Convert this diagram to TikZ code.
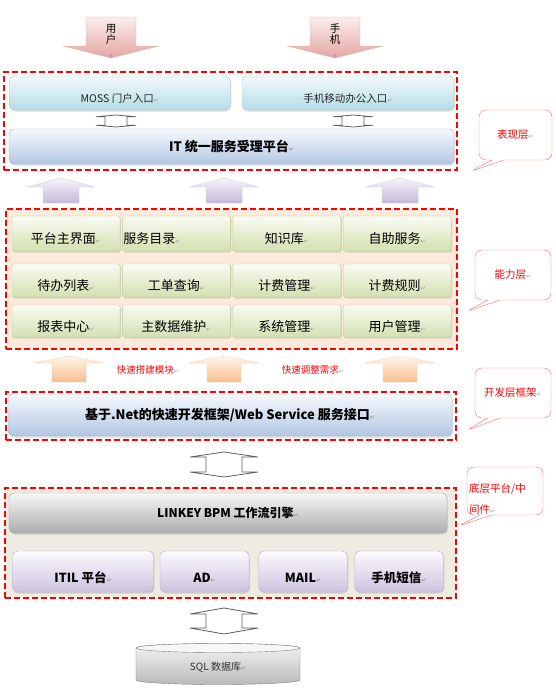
\documentclass[tikz,border=0pt]{standalone}
\usepackage{fontspec}
\setmainfont{Noto Sans CJK SC}
\newfontfamily\symf{DejaVu Sans}
\usetikzlibrary{positioning,shapes,shadows,calc}

\definecolor{layred}{HTML}{FF0000}
\definecolor{notered}{HTML}{FF6B6B}
\definecolor{peach}{HTML}{FDEADA}
\definecolor{sand}{HTML}{EEECE1}
\definecolor{pinktop}{HTML}{FBEDEC}
\definecolor{pinkbot}{HTML}{E5A6A3}
\definecolor{lilactop}{HTML}{F7F5FA}
\definecolor{lilacbot}{HTML}{C4B9D8}
\definecolor{orangetop}{HTML}{FFF5EC}
\definecolor{orangebot}{HTML}{F8BE8E}
\definecolor{mosstop}{HTML}{F3FAFC}
\definecolor{mossbot}{HTML}{B5DCE7}
\definecolor{mossline}{HTML}{A6CAD6}
\definecolor{ittop}{HTML}{F6F9FD}
\definecolor{itbot}{HTML}{B2C7E3}
\definecolor{itline}{HTML}{9FB5D5}
\definecolor{celltop}{HTML}{F9FBF2}
\definecolor{cellbot}{HTML}{D2E1B2}
\definecolor{cellline}{HTML}{BFCF9C}
\definecolor{comptop}{HTML}{FCFBFE}
\definecolor{compbot}{HTML}{CEC2E0}
\definecolor{compline}{HTML}{B8AACE}

\newcommand{\rmark}{{\symf\color{black!40}\fontsize{6}{6}\selectfont ↵}}

\begin{document}
\begin{tikzpicture}[x=1pt,y=-1pt]
	\tikzstyle{layer}=[draw=layred, dash pattern=on 6pt off 3pt, line width=1.6pt, rectangle, inner sep=0pt]
	\tikzstyle{softshadow}=[drop shadow={opacity=0.25, shadow xshift=1pt, shadow yshift=-1.5pt}]
	\tikzstyle{mossbox}=[draw=mossline, rounded corners=5pt, top color=mosstop, bottom color=mossbot, softshadow, inner sep=1pt, font=\fontsize{10.5}{10.5}\selectfont, text=black!85, text height=18pt, text depth=0pt, minimum height=34pt]
	\tikzstyle{itbox}=[draw=itline, rounded corners=5pt, top color=ittop, bottom color=itbot, softshadow, inner sep=1pt, font=\fontsize{13}{13}\selectfont\bfseries]
	\tikzstyle{cell}=[draw=cellline, rounded corners=2pt, top color=celltop, bottom color=cellbot, softshadow, inner sep=1pt, minimum width=108pt, font=\fontsize{13}{13}\selectfont, text height=20pt, text depth=0pt]
	\tikzstyle{bpmbox}=[draw=gray!70, rounded corners=5pt, top color=gray!6, bottom color=gray!65, softshadow, inner sep=1pt, font=\fontsize{12}{12}\selectfont\bfseries]
	\tikzstyle{compbox}=[draw=compline, rounded corners=5pt, top color=comptop, bottom color=compbot, softshadow, inner sep=1pt, minimum height=41pt, font=\fontsize{12.5}{12.5}\selectfont\bfseries, text height=22.5pt, text depth=0pt]
	\tikzstyle{note}=[rectangle callout, draw=notered, fill=white, rounded corners=7pt, callout pointer width=12pt, text=red, font=\fontsize{10.5}{10.5}\selectfont, inner sep=1pt]
	\tikzstyle{dbl}=[draw=gray!75!black, fill=white, line width=0.8pt]

	\path[fill=white] (0,0) rectangle (556,696);
	\useasboundingbox (0,0) rectangle (556,696);

	% layer frames
	\node[layer, minimum width=453pt, minimum height=98pt] (lay1) at (230.5,121) {};
	\node[layer, fill=peach, minimum width=451pt, minimum height=140pt] (lay2) at (231.5,279) {};
	\node[layer, minimum width=450pt, minimum height=48pt] (lay3) at (231,416) {};
	\node[layer, fill=sand, minimum width=451pt, minimum height=110pt] (lay4) at (230.5,543) {};

	% entry arrows
	\foreach \cx in {111,335}
		\path[draw=pinkbot!80!black!60, line width=0.3pt, top color=pinktop, bottom color=pinkbot] (\cx-25,17) -- (\cx+25,17) -- (\cx+25,46) -- (\cx+48,46) -- (\cx,58) -- (\cx-48,46) -- (\cx-25,46) -- cycle;
	\node[font=\fontsize{10.5}{11}\selectfont, align=center] (user) at (111,42) {用\\户\\\rotatebox{-90}{\rmark}};
	\node[font=\fontsize{10.5}{11}\selectfont, align=center] (phone) at (335,42) {手\\机\\\rotatebox{-90}{\rmark}};

	% presentation layer
	\node[mossbox, minimum width=221pt] (moss) at (119.75,93) {MOSS 门户入口\rmark};
	\node[mossbox, minimum width=212pt] (mobile) at (348,93) {手机移动办公入口\rmark};
	\node[itbox, minimum width=445pt, minimum height=35pt] (it) at (231.5,146.5) {IT 统一服务受理平台\rmark};

	\foreach \cx/\t/\b/\w/\s/\h in {116/115/127/20/11/1.8, 353/115/127/20/11/1.8, 224/452/477/34/18/5, 224/608/634/34/18/6}
		\draw[dbl] (\cx,\t) -- (\cx+\w,\t+\h) -- (\cx+\s,\t+\h) -- (\cx+\s,\b-\h) -- (\cx+\w,\b-\h) -- (\cx,\b) -- (\cx-\w,\b-\h) -- (\cx-\s,\b-\h) -- (\cx-\s,\t+\h) -- (\cx-\w,\t+\h) -- cycle;

	\foreach \cx in {61,224,400}
		\path[draw=lilacbot!80, line width=0.3pt, top color=lilactop, bottom color=lilacbot] (\cx,178) -- (\cx+34,187) -- (\cx+18,187) -- (\cx+18,203) -- (\cx-18,203) -- (\cx-18,187) -- (\cx-34,187) -- cycle;

	% ability layer
	\node[cell, minimum height=35pt] (c11) at (66,233.5) {平台主界面\rmark};
	\node[cell, minimum height=35pt, text width=106pt, align=left] (c12) [right=2pt of c11] {服务目录\rmark};
	\node[cell, minimum height=35pt] (c13) [right=2pt of c12] {知识库\rmark};
	\node[cell, minimum height=35pt] (c14) [right=2pt of c13] {自助服务\rmark};
	\node[cell, minimum height=33pt] (c21) at (66,280.5) {待办列表\rmark};
	\node[cell, minimum height=33pt] (c22) [right=2pt of c21] {工单查询\rmark};
	\node[cell, minimum height=33pt] (c23) [right=2pt of c22] {计费管理\rmark};
	\node[cell, minimum height=33pt] (c24) [right=2pt of c23] {计费规则\rmark};
	\node[cell, minimum height=32pt] (c31) at (66,321) {报表中心\rmark};
	\node[cell, minimum height=32pt] (c32) [right=2pt of c31] {主数据维护\rmark};
	\node[cell, minimum height=32pt] (c33) [right=2pt of c32] {系统管理\rmark};
	\node[cell, minimum height=32pt] (c34) [right=2pt of c33] {用户管理\rmark};

	\foreach \cx in {69,224,400}
		\path[draw=orangebot!80, line width=0.3pt, top color=orangetop, bottom color=orangebot] (\cx,356) -- (\cx+35,363) -- (\cx+17,363) -- (\cx+17,382) -- (\cx-17,382) -- (\cx-17,363) -- (\cx-35,363) -- cycle;
	\node[text=red, font=\fontsize{9.5}{9.5}\selectfont] (build) at (148,370) {快速搭建模块\rmark};
	\node[text=red, font=\fontsize{9.5}{9.5}\selectfont] (adjust) at (313,370) {快速调整需求\rmark};

	% development layer
	\node[itbox, minimum width=444pt, minimum height=42pt] (net) at (230,415) {基于.Net的快速开发框架/Web Service 服务接口\rmark};

	% platform layer
	\node[bpmbox, minimum width=438pt, minimum height=40pt] (bpm) at (228,513) {LINKEY BPM 工作流引擎\rmark};
	\node[compbox, minimum width=141pt] (itil) at (83,571.5) {ITIL 平台\rmark};
	\node[compbox, minimum width=89pt] (ad) at (204.5,571.5) {AD\rmark};
	\node[compbox, minimum width=88.5pt] (mail) at (303,571.5) {MAIL\rmark};
	\node[compbox, minimum width=88.5pt] (sms) at (399,571.5) {手机短信\rmark};

	% database
	\path[draw=gray, top color=gray!8, bottom color=gray!55] (136,648) -- (136,680) arc[start angle=180, end angle=360, x radius=82pt, y radius=4.5pt] -- (300,648) arc[start angle=0, end angle=180, x radius=82pt, y radius=4.5pt] -- cycle;
	\draw[gray, fill=gray!6] (218,648) ellipse [x radius=82pt, y radius=4.5pt];
	\node[font=\fontsize{10}{10}\selectfont, text=black!80] (db) at (218,667) {SQL 数据库\rmark};

	% notes
	\node[note, minimum width=73pt, minimum height=50pt, callout absolute pointer={($(lay1.south east)+(12,1)$)}] (n1) at (515.5,135) {表现层\rmark};
	\node[note, minimum width=76pt, minimum height=50pt, callout absolute pointer={($(lay2.east)+(8,33)$)}] (n2) at (513,275) {能力层\rmark};
	\node[note, minimum width=76pt, minimum height=50pt, callout absolute pointer={($(lay3.south east)+(9,-10)$)}] (n3) at (513,393) {开发层框架\rmark};
	\node[note, minimum width=76pt, minimum height=48pt, callout absolute pointer={($(lay4.north east)+(1,39)$)}] (n4) at (505,491) {};
	\node[text=red, font=\fontsize{10.5}{21}\selectfont, align=left, anchor=west, inner sep=0pt] (n4t) at (469,498.5) {底层平台/中\\间件\rmark};
\end{tikzpicture}
\end{document}
